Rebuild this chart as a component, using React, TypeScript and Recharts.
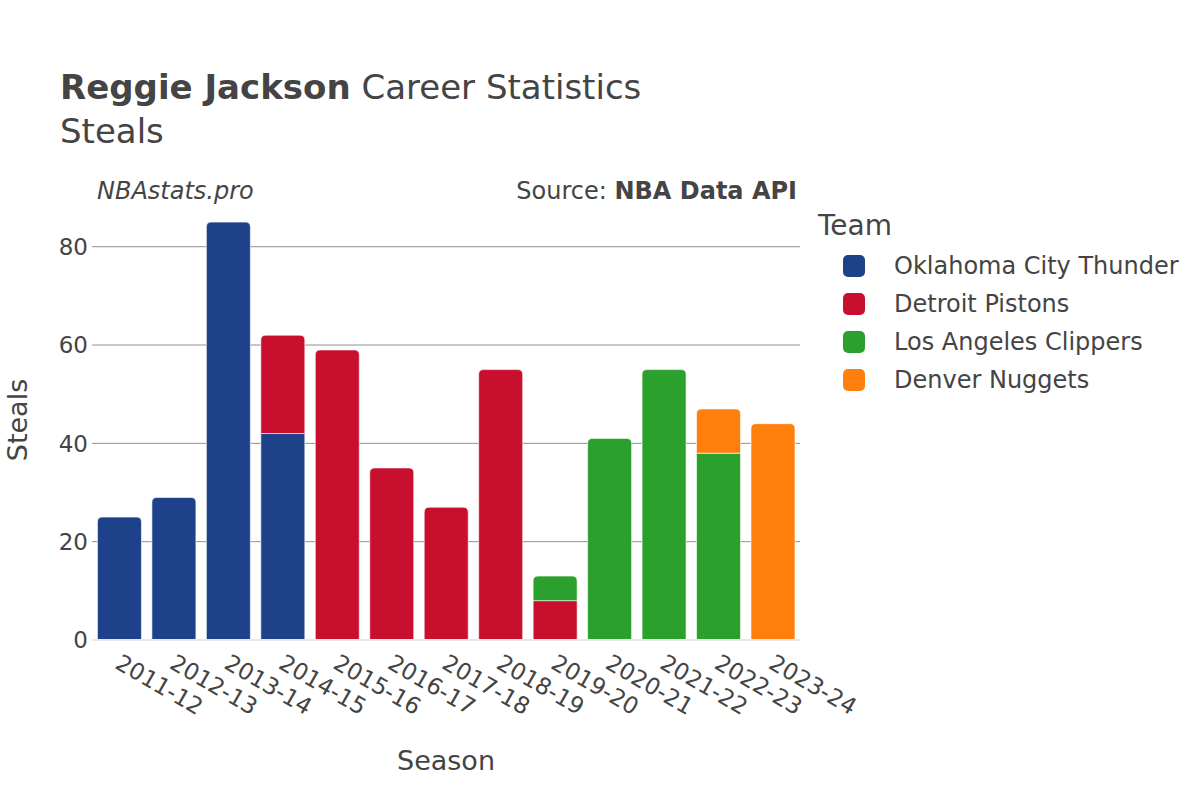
import { Bar, BarChart, CartesianGrid, ReferenceLine, XAxis, YAxis } from 'recharts';

const seasons = [
  '2011-12', '2012-13', '2013-14', '2014-15', '2015-16', '2016-17', '2017-18',
  '2018-19', '2019-20', '2020-21', '2021-22', '2022-23', '2023-24',
];
const thunder = [25, 29, 85, 42, 0, 0, 0, 0, 0, 0, 0, 0, 0];
const pistons = [0, 0, 0, 20, 59, 35, 27, 55, 8, 0, 0, 0, 0];
const clippers = [0, 0, 0, 0, 0, 0, 0, 0, 5, 41, 55, 38, 0];
const nuggets = [0, 0, 0, 0, 0, 0, 0, 0, 0, 0, 0, 9, 44];
const yTicks = [0, 20, 40, 60, 80];

const teams = [
  { key: 'thunder', name: 'Oklahoma City Thunder', color: '#1d428a' },
  { key: 'pistons', name: 'Detroit Pistons', color: '#c8102e' },
  { key: 'clippers', name: 'Los Angeles Clippers', color: '#2ca02c' },
  { key: 'nuggets', name: 'Denver Nuggets', color: '#ff7f0e' },
];

const data = seasons.map((season, i) => {
  const row: any = {
    season,
    thunder: thunder[i],
    pistons: pistons[i],
    clippers: clippers[i],
    nuggets: nuggets[i],
  };
  let top = '';
  teams.forEach((t) => {
    if (row[t.key] > 0) top = t.key;
  });
  row.top = top;
  return row;
});

const FONT = '"DejaVu Sans", sans-serif';
const TEXT = '#444';

const BarShape = (props: any) => {
  const { x, y, width, height, fill, payload, dataKey } = props;
  if (!height || height <= 0) return null;
  const r = payload.top === dataKey ? Math.min(5, height) : 0;
  const d = `M${x},${y + height} L${x},${y + r} Q${x},${y} ${x + r},${y} L${x + width - r},${y} Q${x + width},${y} ${x + width},${y + r} L${x + width},${y + height} Z`;
  return <path d={d} fill={fill} stroke="#fff" strokeWidth={0.6} />;
};

const SeasonTick = (props: any) => {
  const { x, y, payload } = props;
  const tx = x + 3;
  const ty = y + 5;
  return (
    <text
      x={tx}
      y={ty}
      transform={`rotate(30, ${tx}, ${ty})`}
      textAnchor="start"
      dominantBaseline="hanging"
      fontSize={23}
      fontFamily={FONT}
      fill={TEXT}
    >
      {payload.value}
    </text>
  );
};

const App = () => {
  return (
    <div
      style={{
        position: 'absolute',
        left: 0,
        top: 0,
        width: 1200,
        height: 800,
        background: '#fff',
        fontFamily: FONT,
        color: TEXT,
      }}
    >
      <div style={{ position: 'absolute', left: 60, top: 67, fontSize: 34, whiteSpace: 'nowrap' }}>
        <b>Reggie Jackson</b> Career Statistics
      </div>
      <div style={{ position: 'absolute', left: 60, top: 111, fontSize: 34 }}>Steals</div>
      <div style={{ position: 'absolute', left: 97, top: 177, fontSize: 24, fontStyle: 'italic' }}>
        NBAstats.pro
      </div>
      <div
        style={{
          position: 'absolute',
          right: 1200 - 797,
          top: 177,
          fontSize: 24,
          whiteSpace: 'nowrap',
        }}
      >
        Source: <b>NBA Data API</b>
      </div>
      <div
        style={{
          position: 'absolute',
          left: 446,
          top: 760,
          fontSize: 27,
          transform: 'translate(-50%, -50%)',
        }}
      >
        Season
      </div>
      <div
        style={{
          position: 'absolute',
          left: 17,
          top: 420,
          fontSize: 27,
          transform: 'translate(-50%, -50%) rotate(-90deg)',
        }}
      >
        Steals
      </div>
      <div style={{ position: 'absolute', left: 818, top: 209, fontSize: 28 }}>Team</div>
      {teams.map((t, i) => (
        <div
          key={t.key}
          style={{
            position: 'absolute',
            left: 843,
            top: 255 + i * 38,
            display: 'flex',
            alignItems: 'center',
            height: 22,
            whiteSpace: 'nowrap',
            fontSize: 24,
          }}
        >
          <span
            style={{
              display: 'inline-block',
              width: 22,
              height: 22,
              borderRadius: 5,
              background: t.color,
              marginRight: 29,
            }}
          />
          {t.name}
        </div>
      ))}
      <BarChart
        width={1200}
        height={800}
        data={data}
        margin={{ top: 200, right: 400, bottom: 100, left: 52 }}
        barCategoryGap="10%"
        style={{ position: 'absolute', left: 0, top: 0 }}
      >
        <CartesianGrid vertical={false} stroke="#909090" strokeWidth={1} horizontalValues={[20, 40, 60, 80]} />
        <XAxis
          dataKey="season"
          axisLine={false}
          tickLine={false}
          interval={0}
          height={60}
          tick={<SeasonTick />}
        />
        <YAxis
          width={40}
          domain={[0, 89.5]}
          ticks={yTicks}
          axisLine={false}
          tickLine={false}
          tickSize={0}
          tickMargin={4}
          tick={{ fontSize: 23, fontFamily: FONT, fill: TEXT }}
        />
        {teams.map((t) => (
          <Bar
            key={t.key}
            dataKey={t.key}
            name={t.name}
            stackId="a"
            fill={t.color}
            shape={<BarShape />}
            isAnimationActive={false}
          />
        ))}
        <ReferenceLine y={0} stroke="#e8e8e8" strokeWidth={2} />
      </BarChart>
    </div>
  );
};

export default App;
